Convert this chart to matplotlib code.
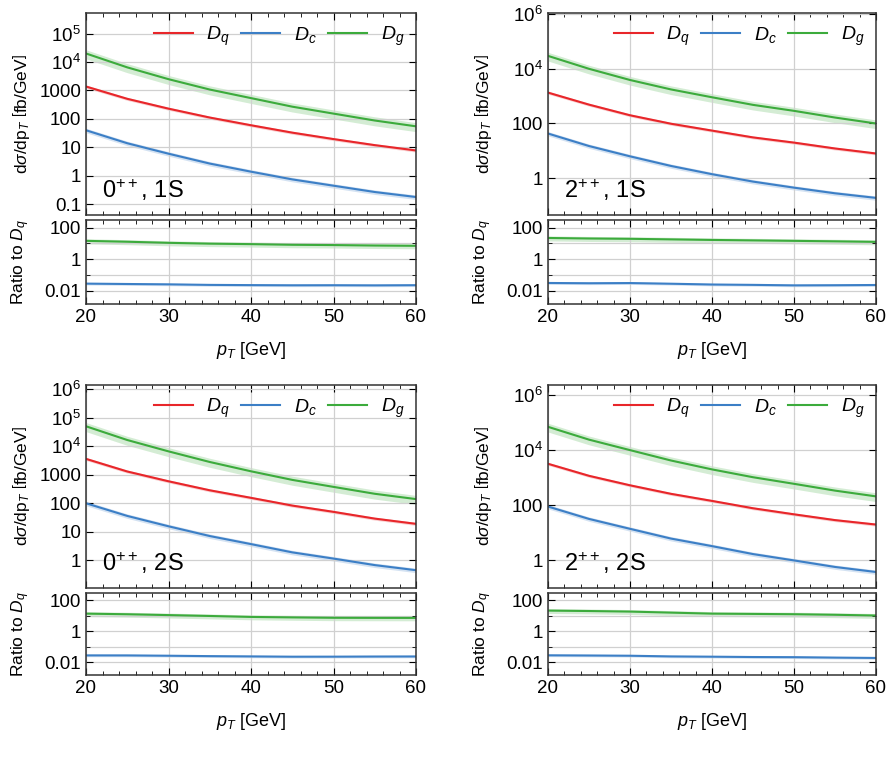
import numpy as np
import matplotlib
matplotlib.use("Agg")
import matplotlib.pyplot as plt
from matplotlib.ticker import FixedLocator, NullFormatter, MultipleLocator

plt.rcParams['font.family'] = ['Liberation Sans', 'DejaVu Sans']
plt.rcParams['mathtext.fontset'] = 'custom'
plt.rcParams['mathtext.it'] = 'Liberation Sans:italic'
plt.rcParams['mathtext.rm'] = 'Liberation Sans'

pt = [20, 25, 30, 35, 40, 45, 50, 55, 60]

panels = [
    dict(label="0$^{++}$, 1S",
         Dq=[1380, 510, 230, 112, 60, 33, 19.6, 12, 7.8],
         Dc=[40, 14, 6, 2.7, 1.4, 0.75, 0.45, 0.27, 0.18],
         Dg=[20000, 6500, 2500, 1080, 540, 270, 154, 88, 55]),
    dict(label="2$^{++}$, 1S",
         Dq=[1350, 490, 200, 98, 55, 31, 20, 12.2, 8],
         Dc=[43, 15, 6.3, 2.8, 1.4, 0.75, 0.45, 0.28, 0.19],
         Dg=[29700, 10000, 3900, 1760, 910, 480, 290, 165, 100]),
    dict(label="0$^{++}$, 2S",
         Dq=[3600, 1300, 590, 285, 155, 83, 50, 29, 19],
         Dc=[100, 36, 15.6, 7.1, 3.7, 1.9, 1.15, 0.68, 0.45],
         Dg=[50000, 16500, 6600, 2800, 1320, 660, 375, 215, 140]),
    dict(label="2$^{++}$, 2S",
         Dq=[3200, 1170, 530, 260, 144, 78, 47, 29, 20],
         Dc=[90, 32, 14, 6.2, 3.3, 1.7, 1.0, 0.58, 0.38],
         Dg=[70000, 24000, 10000, 4200, 2000, 1040, 600, 340, 210]),
]
band = {'Dq': 0.12, 'Dc': 0.18, 'Dg': 0.35}
colors = {'Dq': '#e8262a', 'Dc': '#3c7fc6', 'Dg': '#3cab3c'}
names = {'Dq': '$D_q$', 'Dc': '$D_c$', 'Dg': '$D_g$'}
ylims = [(0.042, 5.3e5), (0.045, 1.1e6), (0.107, 1.4e6), (0.1, 2.3e6)]

W, H = 893, 783
fig = plt.figure(figsize=(W/100, H/100), dpi=100)

def ax_at(x0, y0, x1, y1):
    return fig.add_axes([x0/W, 1-y1/H, (x1-x0)/W, (y1-y0)/H])

lefts = [(86, 416), (548, 876)]
tops = [(13, 215, 220, 304), (385, 588, 593, 675)]

for i, p in enumerate(panels):
    r, c = divmod(i, 2)
    xl, xr = lefts[c]
    t0, t1, t2, t3 = tops[r]
    ax = ax_at(xl, t0, xr, t1)
    axr = ax_at(xl, t2, xr, t3)
    x = np.array(pt)
    q = np.array(p['Dq'], float)
    for k in ['Dq', 'Dc', 'Dg']:
        y = np.array(p[k], float)
        b = band[k]
        ax.fill_between(x, y*(1-b), y*(1+b), color=colors[k], alpha=0.22, lw=0)
        ax.plot(x, y, color=colors[k], lw=1.5, label=names[k])
        if k != 'Dq':
            ry = y/q
            axr.fill_between(x, ry*(1-b), ry*(1+b), color=colors[k], alpha=0.22, lw=0)
            axr.plot(x, ry, color=colors[k], lw=1.5)
    ax.set_yscale('log')
    ax.set_ylim(*ylims[i])
    if c == 0:
        if r == 0:
            ticks = [0.1, 1, 10, 100, 1000, 1e4, 1e5]
        else:
            ticks = [1, 10, 100, 1000, 1e4, 1e5, 1e6]
    else:
        ticks = [1, 100, 1e4, 1e6]
    labs = []
    for t in ticks:
        if t < 1e4:
            labs.append(('%g' % t))
        else:
            labs.append('$10^{%d}$' % int(round(np.log10(t))))
    ax.yaxis.set_major_locator(FixedLocator(ticks))
    ax.set_yticklabels(labs)
    ax.yaxis.set_minor_formatter(NullFormatter())
    ax.set_ylabel(r'd$\sigma$/dp$_T$ $\left[\mathrm{fb/GeV}\right]$', fontsize=12.5)
    ax.legend(loc='upper right', ncol=3, frameon=False, fontsize=14,
              handlelength=2.0, columnspacing=0.6, handletextpad=0.7,
              borderaxespad=0.2)
    ax.text(0.05, 0.06, p['label'], transform=ax.transAxes, fontsize=17, ha='left', va='bottom')

    axr.set_yscale('log')
    axr.set_ylim(0.0015, 300)
    axr.yaxis.set_major_locator(FixedLocator([0.01, 1, 100]))
    axr.set_yticklabels(['0.01', '1', '100'])
    axr.yaxis.set_minor_locator(FixedLocator([0.1, 10]))
    axr.yaxis.set_minor_formatter(NullFormatter())
    axr.set_ylabel('Ratio to $D_q$', fontsize=12.5)
    axr.set_xlabel('$p_T$ [GeV]', fontsize=13, labelpad=10)

    for a in (ax, axr):
        a.set_xlim(20, 60)
        a.xaxis.set_major_locator(MultipleLocator(10))
        a.xaxis.set_minor_locator(MultipleLocator(2))
        a.tick_params(which='both', direction='in', top=True, right=True, labelsize=13.5)
        a.tick_params(which='major', length=5)
        a.tick_params(which='minor', length=3)
        a.grid(True, which='major', axis='both', color='#d0d0d0', lw=0.9)
        for s in a.spines.values():
            s.set_color('#333333')
            s.set_linewidth(1.1)
    axr.grid(True, which='minor', axis='y', color='#d0d0d0', lw=0.9)
    ax.set_xticklabels([])
    ax.yaxis.set_label_coords(-0.165, 0.5)
    axr.yaxis.set_label_coords(-0.165, 0.5)

fig.savefig('out.png', dpi=100)
